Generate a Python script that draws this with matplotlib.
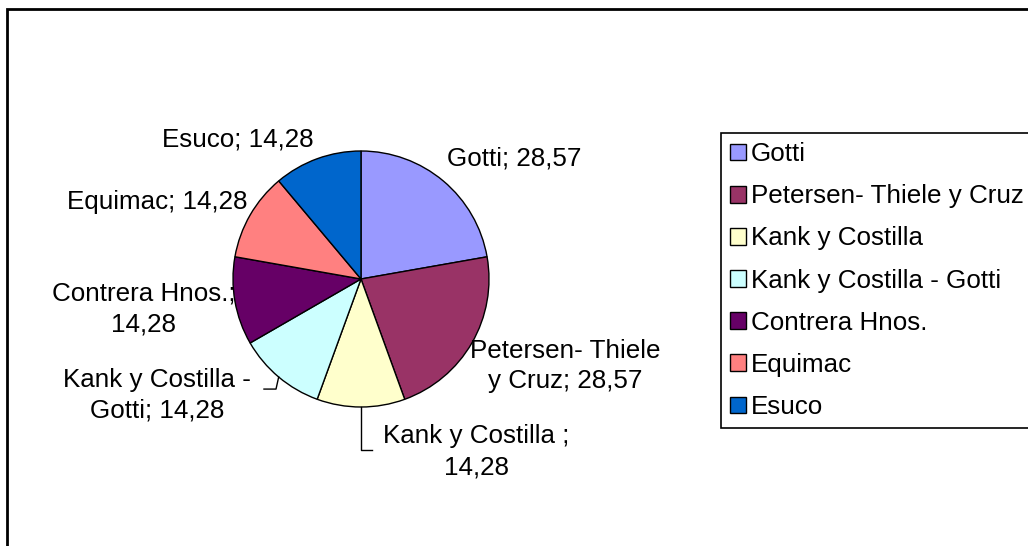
import matplotlib
matplotlib.use("Agg")
import matplotlib.pyplot as plt
from matplotlib.patches import Rectangle, Patch
import numpy as np

categories = ["Gotti", "Petersen- Thiele y Cruz", "Kank y Costilla",
              "Kank y Costilla - Gotti", "Contrera Hnos.", "Equimac", "Esuco"]
values = [28.57, 28.57, 14.28, 14.28, 14.28, 14.28, 14.28]
label_names = ["Gotti", "Petersen- Thiele\ny Cruz", "Kank y Costilla ;\n",
               "Kank y Costilla -\nGotti", "Contrera Hnos.;\n", "Equimac", "Esuco"]
colors = ["#9999FF", "#993366", "#FFFFCC", "#CCFFFF", "#660066", "#FF8080", "#0066CC"]

plt.rcParams['font.family'] = ['Liberation Sans', 'DejaVu Sans']
FS = 18.7

W, H = 1028, 546
fig = plt.figure(figsize=(W / 100, H / 100), dpi=100)
fig.patch.set_facecolor("white")

# outer chart frame
fig.patches.append(Rectangle((6.5 / W, -0.1), 1.2, 1.1 - 9.5 / H,
                             transform=fig.transFigure, fill=False,
                             edgecolor="black", linewidth=2))

cx, cy, r = 361, 279, 128
ax = fig.add_axes([(cx - r) / W, 1 - (cy + r) / H, 2 * r / W, 2 * r / H])

wedges, _ = ax.pie(values, colors=colors, startangle=90, counterclock=False,
                   radius=1, wedgeprops=dict(edgecolor="black", linewidth=1.0))
ax.set_xlim(-1, 1)
ax.set_ylim(-1, 1)
ax.axis("off")

def fmt(v):
    return f"{v:.2f}".replace(".", ",")

def join(name, v):
    if name.endswith("\n"):
        return name + fmt(v)
    return name + "; " + fmt(v)

# label layout (data units, radius = 1)
label_pos = [(1.20, 0.945), (1.594, -0.68), (0.90, -1.35), (-1.594, -0.906),
             (-1.70, -0.234), (-1.594, 0.60), (-0.96, 1.086)]
for name, v, (lx, ly) in zip(label_names, values, label_pos):
    ax.text(lx, ly, join(name, v), ha="center", va="center", fontsize=FS,
            linespacing=1.35, clip_on=False)

def mid(w):
    a = np.deg2rad((w.theta1 + w.theta2) / 2)
    return np.cos(a), np.sin(a)

# leader lines
mx, my = mid(wedges[2])
ax.plot([mx, mx, 0.086], [my, -1.336, -1.336], color="black", lw=1, clip_on=False)
mx, my = mid(wedges[3])
ax.plot([mx, -0.664, -0.758], [my, -0.86, -0.86], color="black", lw=1, clip_on=False)

handles = [Patch(facecolor=c, edgecolor="black", linewidth=1) for c in colors]
leg = fig.legend(handles, categories, loc="upper left",
                 bbox_to_anchor=(721 / W, 1 - 133 / H), fontsize=FS,
                 frameon=True, fancybox=False, framealpha=1, edgecolor="black",
                 borderaxespad=0, borderpad=0.35, handlelength=0.62,
                 handleheight=0.62, handletextpad=0.18, labelspacing=0.7)
leg.get_frame().set_linewidth(1.2)

fig.savefig("out.png", dpi=100)
